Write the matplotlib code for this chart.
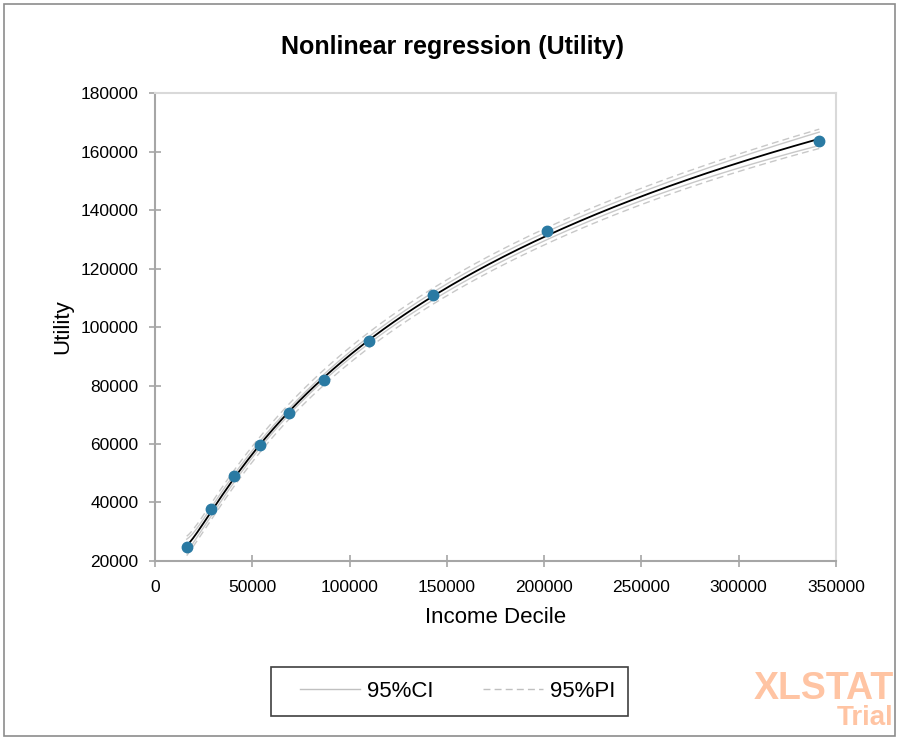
import matplotlib.pyplot as plt
import numpy as np
from matplotlib.patches import Rectangle
from matplotlib.lines import Line2D

plt.rcParams['font.family'] = ['Liberation Sans', 'DejaVu Sans']

# observed points
income = np.array([16300, 28800, 40750, 54100, 69000, 86850, 110150, 143000, 201600, 341400])
utility = np.array([24700, 37650, 49050, 59650, 70500, 81900, 95200, 110850, 132800, 163700])

x_ticks = [0, 50000, 100000, 150000, 200000, 250000, 300000, 350000]
y_ticks = [20000, 40000, 60000, 80000, 100000, 120000, 140000, 160000, 180000]

# regression on log(income), cubic
def design(x):
    lx = np.log(x) - 11.0
    return np.column_stack([np.ones_like(lx), lx, lx ** 2, lx ** 3])

X = design(income)
beta, *_ = np.linalg.lstsq(X, utility, rcond=None)
resid = utility - X @ beta
dof = len(income) - X.shape[1]
s = np.sqrt(np.sum(resid ** 2) / dof)
XtX_inv = np.linalg.inv(X.T @ X)
t_crit = 2.447  # t(0.975, 6)

xs = np.linspace(income.min(), income.max(), 300)
Xs = design(xs)
fit = Xs @ beta
h = np.einsum('ij,jk,ik->i', Xs, XtX_inv, Xs)
ci = t_crit * s * np.sqrt(h)
pi = t_crit * s * np.sqrt(1 + h)

fig = plt.figure(figsize=(8.99, 7.40), dpi=100)
ax = fig.add_axes([0.1724, 0.2419, 0.7575, 0.6324])

band_col = '#c8c8c8'
ax.plot(xs, fit + ci, color=band_col, lw=1.0)
ax.plot(xs, fit - ci, color=band_col, lw=1.0)
ax.plot(xs, fit + pi, color=band_col, lw=1.0, ls=(0, (5, 3)))
ax.plot(xs, fit - pi, color=band_col, lw=1.0, ls=(0, (5, 3)))
ax.plot(xs, fit, color='black', lw=1.3)
ax.plot(income, utility, 'o', color='#2a7aa3', ms=7.5, zorder=5)

ax.set_xlim(0, 350000)
ax.set_ylim(20000, 180000)
ax.set_xticks(x_ticks)
ax.set_yticks(y_ticks)
ax.tick_params(direction='inout', length=8, width=1.2, color='#a6a6a6', labelsize=12.5)
ax.tick_params(axis='y', pad=8)
ax.tick_params(axis='x', pad=10)
for sp in ax.spines.values():
    sp.set_color('#a6a6a6')
    sp.set_linewidth(1.5)
ax.spines['top'].set_color('#d9d9d9')
ax.spines['right'].set_color('#d9d9d9')

ax.set_xlabel('Income Decile', fontsize=16, labelpad=8)
ax.set_ylabel('Utility', fontsize=16, labelpad=5)
fig.text(0.503, 0.937, 'Nonlinear regression (Utility)', ha='center', va='center',
         fontsize=18, fontweight='bold')

# legend entries, box drawn separately
handles = [Line2D([], [], color='#c0c0c0', lw=1.0),
           Line2D([], [], color='#c0c0c0', lw=1.0, ls=(0, (5, 3)))]
leg = fig.legend(handles, ['95%CI', '95%PI'], loc='center', bbox_to_anchor=(0.509, 0.0655),
                 ncol=2, fontsize=16, frameon=False, handlelength=2.7,
                 handletextpad=0.3, columnspacing=2.26, borderpad=0.55, borderaxespad=0)
fig.patches.append(Rectangle((0.3014, 0.0324), 0.3971, 0.0662, transform=fig.transFigure,
                             fill=False, edgecolor='#404040', lw=1.2))

# watermark
fig.text(0.994, 0.069, 'XLSTAT', ha='right', va='center', fontsize=27, fontweight='bold',
         color='#ffc4a3')
fig.text(0.994, 0.030, 'Trial', ha='right', va='center', fontsize=20, fontweight='bold',
         color='#ffc4a3')

fig.patches.append(Rectangle((0.004, 0.005), 0.992, 0.99, transform=fig.transFigure,
                             fill=False, edgecolor='#8c8c8c', lw=1.2))

fig.savefig('out.png', dpi=100)
